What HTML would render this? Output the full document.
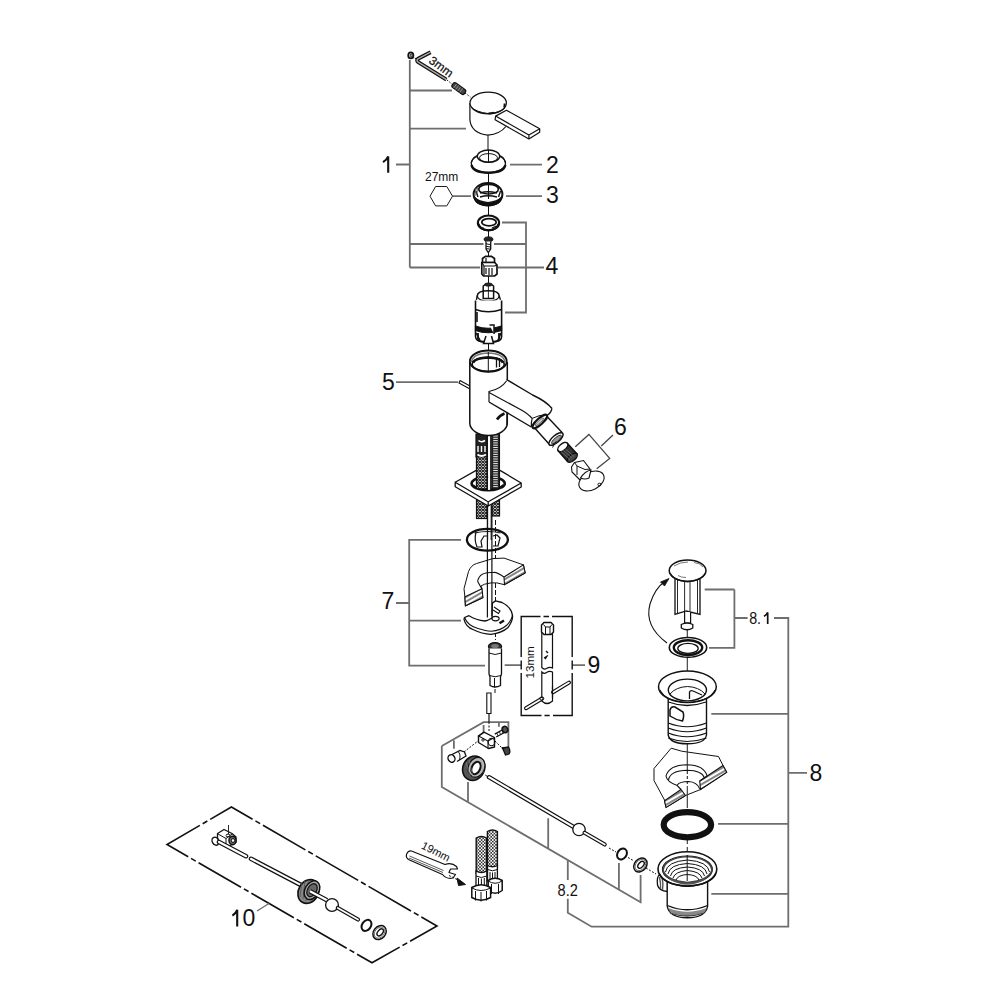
<!DOCTYPE html>
<html><head><meta charset="utf-8">
<style>
html,body{margin:0;padding:0;background:#fff;width:1000px;height:1000px;overflow:hidden}
svg{display:block;position:absolute;left:0;top:0}
text{font-family:"Liberation Sans",sans-serif;fill:#111}
</style></head><body>
<svg width="1000" height="1000" viewBox="0 0 1000 1000">
<defs>
<pattern id="braid" width="3" height="3" patternUnits="userSpaceOnUse">
<rect width="3" height="3" fill="#fff"/>
<path d="M0 0L3 3M3 0L0 3" stroke="#222" stroke-width="1.1"/>
</pattern>
<pattern id="braid2" width="3.2" height="3.2" patternUnits="userSpaceOnUse">
<rect width="3.2" height="3.2" fill="#fff"/>
<path d="M0 0L3.2 3.2M3.2 0L0 3.2" stroke="#333" stroke-width="0.8"/>
</pattern>
<pattern id="knurl" width="2" height="2" patternUnits="userSpaceOnUse">
<rect width="2" height="2" fill="#555"/>
<rect width="1" height="1" fill="#222"/>
</pattern>
</defs>
<g fill="none" stroke="#1a1a1a" stroke-width="1.2" stroke-linecap="butt">
<!-- leader lines / brackets -->
<path stroke="#6e6e6e" stroke-width="1.8" d="M409.8 60V267.5M409.8 90.5H452M409.8 128.7H466M396 164.5H409.8M409.8 244H483.5M494 244H526M409.8 267.5H480"/>
<path stroke="#6e6e6e" stroke-width="1.8" d="M502 222.5H526V312.5H505M498 267.5H544"/>
<path stroke="#6e6e6e" stroke-width="1.8" d="M510 164.7H542M506 196.2H542M452.5 196.2H471"/>
<path d="M430 196.2L435.6 186.5H446.8L452.5 196.2L446.8 205.9H435.6Z" stroke-width="1"/>
</g>
<g font-size="23">

<text x="546" y="172.8">2</text>
<text x="546" y="203.2">3</text>
<text x="545.5" y="274.2">4</text>
<text x="382" y="390">5</text>
<text x="614" y="435.3">6</text>
<text x="381.5" y="609">7</text>
<text x="587.5" y="672.5">9</text>
<text x="809.5" y="780.5">8</text>
</g>
<g fill="none" stroke="#111" stroke-linecap="butt">
<path d="M383 162.2Q386.8 160 388.2 156.4V172.8" stroke-width="2.1"/>
<path d="M232.4 915.6Q236.2 913.4 237.2 909.8V926.4" stroke-width="2.1"/>
<path d="M764 616.4Q766.8 614.6 767.7 612.4V624" stroke-width="1.7"/>
</g>
<text x="425" y="180.5" font-size="12">27mm</text>

<!-- ===== TOP ASSEMBLY ===== -->
<g fill="none" stroke="#111" stroke-width="1.2">
<!-- center lines -->
<path d="M488 135V150M488.5 173V183M488.5 206V216M488.5 231V237M488.5 252V256M488.5 276V283M488.5 342V351" stroke-width="1"/>
<path d="M412 57L417 59M447 80L452.5 84.5M465 93L470.4 97" stroke-width="1" stroke-dasharray="1.5 1.5"/>
<!-- tiny nut -->
<ellipse cx="410.8" cy="55.4" rx="2.6" ry="3" fill="#ddd" stroke-width="1.7"/>
<ellipse cx="411.2" cy="55.4" rx="0.9" ry="1.4" stroke-width="0.9"/>
<!-- hex key -->
<path d="M430.6 52.2L418 58.8Q416 60.5 418.2 62.2L446.4 79.6" stroke="#111" stroke-width="3.8" stroke-linejoin="round"/>
<path d="M430.6 52.2L418 58.8Q416 60.5 418.2 62.2L446.4 79.6" stroke="#aaa" stroke-width="1.4" stroke-linejoin="round"/>
</g>
<text font-size="12" transform="translate(428,62.2) rotate(36)" style="stroke:#111;stroke-width:0.25">3mm</text>
<g fill="none" stroke="#111" stroke-width="1.2">
<!-- set screw -->
<g transform="translate(458.8,88.6) rotate(36)">
<rect x="-7.5" y="-2.8" width="15" height="5.6" rx="2" fill="#444" stroke="#111" stroke-width="1.2"/>
<path d="M-4.5 -2.5V2.5M-2 -2.5V2.5M0.5 -2.5V2.5M3 -2.5V2.5" stroke="#aaa" stroke-width="0.7"/>
</g>
<!-- handle -->
<path d="M469.9 103V119.7Q471 133 487.9 135.2Q500 134 505.9 126.5" fill="#fff"/>
<ellipse cx="488.2" cy="103" rx="18.2" ry="10.8" fill="#fff"/>
<path d="M488.5 113.4Q491 113.3 494 112.8M504.6 103.5Q504.8 105.5 504.2 107.5" stroke-width="2"/>
<path d="M471 107Q476 112 488 113.5Q500 113 505 108" stroke-width="1"/>
<path d="M495.6 116.1L506.4 110.3L539.7 128.7L528.9 135ZM495.6 116.1L495.1 119.7L528.9 139L539.7 132.3V128.7M528.9 135V139" fill="#fff" stroke-linejoin="round"/>
<!-- ring 2 -->
<path d="M471.2 163.2Q473 156.5 477.4 155.5" />
<path d="M499.6 155.5Q504 156.5 505.6 163.2" />
<ellipse cx="488.4" cy="163.3" rx="17.1" ry="9.3" stroke-width="1.3"/>
<path d="M471.5 165Q473 172.5 488.4 172.8Q504 172.5 505.3 165" stroke-width="2.4"/>
<ellipse cx="488.5" cy="156.2" rx="11.2" ry="6.2" fill="#fff" stroke-width="1.3"/>
<ellipse cx="488.5" cy="157.8" rx="9" ry="4.2" stroke-width="1"/>
<path d="M488.5 150V162" stroke-width="1"/>
<!-- nut 3 -->
<ellipse cx="488" cy="194.2" rx="14.4" ry="11.2" fill="#fff" stroke-width="2"/>
<path d="M474.2 197Q475 205.5 488 205.6Q501 205.5 501.8 197Q497 202 488 202.5Q479 202 474.2 197Z" fill="#111" stroke-width="1.2"/>
<ellipse cx="488.6" cy="189.2" rx="9.8" ry="4.8" stroke-width="1.6"/>
<path d="M480 193Q488 190.5 497 193M480 197Q488 194.5 497 197M476 191L478 197M500.5 191L498.5 197" stroke-width="1.4"/>
<path d="M476 188L475 196M477.5 187L477 194" stroke="#666" stroke-width="1"/>
<path d="M488.5 183V199" stroke-width="1"/>
<!-- nut 4 -->
<ellipse cx="488.5" cy="222.9" rx="10.6" ry="7.4" fill="#fff" stroke-width="2.2"/>
<ellipse cx="489" cy="222.2" rx="7.2" ry="3.6" stroke-width="1.8"/>
<path d="M478.5 224Q480 230 488.5 230.3Q497 230 498.5 224" stroke-width="2"/>
<path d="M480 226L481.5 228.5M483 227L482.5 229.5M492 228L496.5 226" stroke-width="1.2"/>
<!-- small screw -->
<ellipse cx="488.5" cy="239.3" rx="4.4" ry="2.4" fill="#222" stroke-width="1"/>
<path d="M486 241.5V249L488.3 252.5L490.7 249V241.5" fill="#fff" stroke-width="1.3"/>
<path d="M486 243.8L490.7 244.6M486 246.3L490.7 247.1M486 248.6L490.7 249.2" stroke-width="1"/>
<!-- adapter -->
<path d="M482.5 258.5L485.5 256.3H491.5L494.5 258.5V262.5H482.5Z" fill="#fff" stroke-width="1.7"/>
<path d="M481.8 262.5H494.7L497 265V274L494.7 276H483.5L481.8 274Z" fill="#fff" stroke-width="1.7"/>
<path d="M486 258V262M481.8 262.5L484 266H494.7L497 265M484 266V275.5" stroke-width="1.2"/>
<path d="M486 268V274M489 268V275M492 268V275" stroke-width="1.2"/>
<!-- cartridge -->
<path d="M483.2 286Q488.4 281.5 493.6 286V298.5H483.2Z" fill="#fff" stroke-width="1.5"/>
<ellipse cx="488.4" cy="284.6" rx="4" ry="2" fill="#222" stroke="none"/>
<path d="M488.4 286V298" stroke-width="0.9"/>
<path d="M477.2 296Q477.5 290.8 488.2 290.8Q499 290.8 499.2 296" stroke-width="1.6"/>
<path d="M477.2 296Q478 301 488.2 301.2Q498.5 301 499.2 296" stroke-width="1.4"/>
<path d="M475.5 300.5V336.5Q476 341 481 341.5H496Q501.5 341 501.6 336.5V300.5" fill="#fff" stroke-width="1.6"/>
<path d="M476.4 299.8L477.2 296M500.5 299.8L499.2 296" stroke-width="1.4"/>
<path d="M475.5 309.5Q488 314 501.6 309.5" stroke-width="1.6"/>
<path d="M475.5 326Q488 330.5 501.6 326V330.5Q488 335 475.5 330.5Z" fill="#111" stroke-width="1.2"/>
<path d="M477 312V322" stroke-width="1.6"/>
<path d="M478 333V339.5Q480 342 485 342H492Q497 342 499 339.5V333" stroke-width="1.8"/>
<path d="M486 336L483.5 343.5H493.5L491.5 336M489.5 325H494V334" stroke-width="1.5" fill="#fff"/>
<path d="M476 333L480 340M501 333L498 340" stroke-width="1.5"/>
</g>

<!-- ===== BODY ===== -->
<g fill="none" stroke="#111" stroke-width="1.3">
<!-- label 5 -->
<path d="M396 382.2H458" stroke="#6e6e6e" stroke-width="1.8"/>
<path d="M460 380.5L470 386M460 380.5L459 383L469 388.5" stroke-width="1.1"/>
<!-- hoses under body -->
<rect x="476.5" y="488" width="10.5" height="30.5" fill="url(#braid)" stroke-width="1.2"/>
<rect x="492" y="488" width="7.5" height="28" fill="url(#braid)" stroke-width="1.2"/>
<path d="M487.6 488V540M491.2 488V540" stroke-width="1.1"/>
<!-- plate -->
<path d="M455.2 482.2L488.5 463.5L521.2 483V487L488.2 506L455.2 486.8Z" fill="#fff" stroke="none"/>
<path d="M455.2 482.2L476.2 470.4M500 470.4L521.2 483L488.2 501.8L455.2 482.2V486.8L488.2 506V501.8M488.2 506L521.2 487V483" stroke-width="1.3" stroke-linejoin="round"/>
<ellipse cx="488.2" cy="483.6" rx="16.6" ry="6.8" fill="#fff" stroke-width="2.6"/>
<path d="M473 485Q476 489.5 488.2 490Q500 489.5 503.5 485" stroke-width="2.2"/>
<!-- upper hoses -->
<rect x="476.5" y="455" width="10.5" height="34" fill="url(#braid)" stroke-width="1.3"/>
<rect x="491.8" y="434" width="7.6" height="55" fill="#2a2a2a" stroke-width="1.3"/>
<path d="M493.2 436.0H497.8M493.2 438.3H497.8M493.2 440.6H497.8M493.2 442.9H497.8M493.2 445.2H497.8M493.2 447.5H497.8M493.2 449.8H497.8M493.2 452.1H497.8M493.2 454.4H497.8M493.2 456.7H497.8M493.2 459.0H497.8M493.2 461.3H497.8M493.2 463.6H497.8M493.2 465.9H497.8M493.2 468.2H497.8M493.2 470.5H497.8M493.2 472.8H497.8M493.2 475.1H497.8M493.2 477.4H497.8M493.2 479.7H497.8M493.2 482.0H497.8M493.2 484.3H497.8M493.2 486.6H497.8" stroke="#fff" stroke-width="0.9"/>
<path d="M476 434V457H487V434Z" fill="#222" stroke-width="1.2"/>
<path d="M478.5 440.5Q481.5 443 485 440.5" stroke="#fff" stroke-width="1.6"/>
<path d="M478 446V452M481.5 446V452M485 446V452" stroke="#fff" stroke-width="1.4"/>
<path d="M477.5 454.5Q481.5 457.5 486 454.5" stroke="#fff" stroke-width="1.8"/>
<path d="M487.6 434V490M490.6 434V490" stroke-width="1.1"/>
<path d="M488.1 434H490.1V490H488.1Z" fill="#fff" stroke="none"/>
<path d="M474 488Q478 490.5 488.2 490.8Q498 490.5 502.5 488L488.2 501.3Z" fill="#fff" stroke="none"/>
<path d="M473.5 486.5Q477 490.5 488.2 490.8Q499 490.5 503 486.5" stroke-width="1.6"/>
<!-- body -->
<path d="M469.8 362V423A18.75 12.5 0 0 0 507.3 423V362" fill="#fff" stroke-width="1.5"/>
<ellipse cx="488.3" cy="361.2" rx="18.4" ry="10.7" fill="#fff" stroke-width="1.8"/>
<path d="M471.5 362Q473 353.5 488.3 353Q503.5 353.5 505 362" stroke="#777" stroke-width="1.6"/>
<ellipse cx="488.2" cy="364.3" rx="16" ry="7.1" stroke-width="1.6"/>
<path d="M473 362.5Q476 357.8 488.2 357.5Q500 357.8 503 362.5" stroke-width="2.6"/>
<path d="M496.5 357.5V367.5M499.5 358V367" stroke-width="1.3"/>
<path d="M488.3 352V372" stroke-width="1"/>
<path d="M497 419.5Q499.5 415.5 504.5 413.5" stroke-width="2.6"/>
<!-- spout -->
<path d="M506.5 379.5L532.6 395Q547 402 552 408.5L547 416L534 428L489 402V391Q500 388 506.5 381Z" fill="#fff" stroke="none"/>
<path d="M506.5 379.5L532.6 395Q546.5 401.5 552 408.5" stroke-width="1.4"/>
<path d="M506.5 381Q501 389 489 391.5V402" stroke-width="1.2"/>
<path d="M489 392.5L520 409.2Q528 413.5 532.2 418.4" stroke-width="1.2"/>
<path d="M489 402L531.3 427" stroke-width="1.4"/>
<path d="M552 408.5Q551 413 547 415.5M532.2 418.4Q531 422 531.3 427" stroke-width="1.2"/>
<path d="M532.2 418.4Q540 414 547 415.5" stroke-width="1"/>
<path d="M507 413V425" stroke-width="1.3"/>
<!-- aerator housing -->
<path d="M534.9 428.3L547 416.6L562.3 432.8L549.5 444.5Z" fill="#fff" stroke="none"/>
<path d="M547 416.6L562.3 432.8M534.9 428.3L549.5 444.5" stroke-width="1.4"/>
<ellipse cx="556" cy="439" rx="8.8" ry="3.6" transform="rotate(-40 556 439)" fill="#fff" stroke-width="1.5"/>
<ellipse cx="556.5" cy="439.5" rx="6.2" ry="2" transform="rotate(-40 556.5 439.5)" fill="#999" stroke-width="0.8"/>
<ellipse cx="539.8" cy="421.5" rx="9.4" ry="3" transform="rotate(-42 539.8 421.5)" fill="#fff" stroke-width="2.2"/>
<ellipse cx="539.5" cy="421.8" rx="5.5" ry="1.2" transform="rotate(-42 539.5 421.8)" fill="#ccc" stroke="#555" stroke-width="0.8"/>
<!-- knurled aerator -->
<g transform="translate(-3,3.5)">
<path d="M561 447L570.5 440L580 450.5L570.5 458Z" fill="#333" stroke="#111" stroke-width="1.5"/>
<ellipse cx="575.3" cy="454.2" rx="6" ry="3" transform="rotate(-40 575.3 454.2)" fill="#444" stroke-width="1.4"/>
<ellipse cx="565.8" cy="443.5" rx="6" ry="3.2" transform="rotate(-40 565.8 443.5)" fill="#fff" stroke-width="1.5"/>
<path d="M564 448L573 456M566 446.5L575 454.5M568 445L577 453" stroke="#888" stroke-width="0.6"/>
<path d="M559 438L555.5 444M578.5 459.5L582 463" stroke-width="1"/>
</g>
<!-- nozzle tip -->
<path d="M571.5 467L574.5 462.5L583.5 460.5L590 469L591 476L580 480L572 472Z" fill="#fff" stroke-width="1.1"/>
<path d="M574.5 462.5L577 466L585 469.5L590 469M577 466V475" stroke-width="1"/>
<ellipse cx="591.5" cy="481" rx="13.5" ry="8.7" transform="rotate(-28 591.5 481)" fill="#fff" stroke-width="1.1"/>
<path d="M580.5 478Q585 471 591 470L589 478Q585 480 580.5 478Z" fill="#fff" stroke-width="1.1"/>
<ellipse cx="599.5" cy="484.5" rx="1.6" ry="1.3" stroke-width="1"/>
<!-- bracket 6 -->
<path d="M575.3 446.7L588.9 434.4L609.7 458.4L596.7 468.8M601.3 446L613 435" stroke="#444" stroke-width="1.3"/>
</g>

<!-- ===== PART 7 / 9 ===== -->
<defs>
<pattern id="hatch" width="4" height="4" patternUnits="userSpaceOnUse" patternTransform="rotate(-30)">
<rect width="4" height="4" fill="#fff"/>
<path d="M0 2H4" stroke="#222" stroke-width="1.1"/>
</pattern>
</defs>
<g fill="none" stroke="#111" stroke-width="1.2">
<!-- bracket 7 -->
<path d="M461 539.8H409.2V665.6H485M396 603H409.2M409.2 620.7H461M504.7 665.2H521.2M572.2 665.2H585" stroke="#6e6e6e" stroke-width="1.8"/>
<!-- dashed center line -->
<path d="M495.5 520V640M495 689V693" stroke-width="1" stroke-dasharray="5 2"/>
<!-- O-ring -->
<ellipse cx="487.4" cy="539.8" rx="20.5" ry="10.9" stroke-width="2.3"/>
<path d="M476 532Q474 540 477 547H482L481 541L484 536H488M493 536L497 535L500 538L498 546H493" stroke-width="1.2"/>
<path d="M474.5 533Q488 530 500.5 533" stroke-width="1.1"/>
<!-- countertop section -->
<path d="M468.5 571.6Q471 565 476.6 563.5L492.8 558.6L504 558.1L523.4 564.9L525.2 573L504.5 584.7Q496 582 491 582.9Q483 584 481 586L482.9 597.7L465.4 605.8L464.9 596.8L464 588.7Z" fill="#fff" stroke-width="1"/>
<path d="M523.4 564.9L504 577L504.5 584.7L525.2 573Z" fill="url(#hatch)" stroke-width="1.1"/>
<path d="M504 577Q496 571.5 493.7 572.5Q482 572 479.3 577Q477 581 478 582Q480 586 482 588.7" stroke-width="1.1"/>
<path d="M482 588.7L464.9 596.8L465.4 605.8L482.9 597.7Z" fill="url(#hatch)" stroke-width="1.1"/>
<!-- horseshoe -->
<path d="M464 619.3Q466 627 473 629.5Q482 634 491 634.3Q502 633 508 627.5Q513.5 620 512.4 614.8Q511 607 502 602.5L495.5 600.9L492.4 603.1L492 618Q488 620.5 485 621Q476 620 469 615.7L464.5 617.5Z" fill="#fff" stroke-width="1.3" stroke-linejoin="round"/>
<path d="M464.5 617.5Q468 626 478 628.5Q486 631 491 631.3Q501 630.5 507 625Q512.4 619 512.4 614.8" stroke-width="1.1"/>
<ellipse cx="495.5" cy="618.6" rx="3.6" ry="2.2" stroke-width="1.2"/>
<path d="M499.5 623.3L504 620.5" stroke-width="2.4"/>
<path d="M494 607L500 611L498.5 613.5L493 610" stroke-width="1.1"/>
<!-- rod -->
<path d="M487.4 506V617.5M491.9 506V616" stroke-width="1.2"/>
<path d="M487.4 540V550M491.9 540V550" stroke="#fff" stroke-width="0"/>
<!-- threaded pin -->
<ellipse cx="495" cy="646.5" rx="6.6" ry="3.8" fill="#333" stroke-width="1.2"/>
<ellipse cx="495" cy="646" rx="3.8" ry="2" fill="#777" stroke="none"/>
<path d="M489 648.5V674L490 677V685.5Q495 688.5 500.5 685.5V677L501.5 674V648.5" fill="#fff" stroke-width="1.3"/>
<path d="M489 653Q495 656 501.5 653M489.5 675.5Q495 678 501 675.5M494.5 678V687.5" stroke-width="1"/>
<path d="M486.8 693V713.5H491V693Z" fill="#fff" stroke-width="1.1"/>
<!-- box 9 -->
<path d="M521.2 657V616.5H540.5M543.5 616.5H549M552 616.5H572.2V657M521.2 660.5V669.5M572.2 660.5V669.5M521.2 673V715.5H541.5M544.5 715.5H549.7M553 715.5H572.2V673" stroke-width="1.4"/>
<!-- T wrench -->
<path d="M541.8 630V667.5Q544 670 546.5 668.5Q549.5 666.5 552.5 668V630" fill="#fff" stroke-width="1.2"/>
<path d="M541.8 672Q544 674.5 546.5 672.5Q549.5 670.5 552.5 672V701Q547 706 541.8 701Z" fill="#fff" stroke-width="1.2"/>
<path d="M541.5 625L544 622.5H551L553.5 625V632L551 634.5H544L541.5 632Z" fill="#fff" stroke-width="1.4"/>
<path d="M543.5 624.5L545.5 627H550L552 624.5M545.5 627V634M550 627V634" stroke-width="1"/>
<path d="M546 651L548 653M546.5 657L545 659M548 655.5L544 658" stroke-width="1.4"/>
<path d="M526 708.2L541.8 698.8M553 692.2L569 682.6" stroke="#111" stroke-width="4" stroke-linecap="round"/>
<path d="M526 708.2L541.8 698.8M553 692.2L569 682.6" stroke="#fff" stroke-width="1.7" stroke-linecap="round"/>
<path d="M552.5 686V698" stroke-width="1.2"/>
<ellipse cx="541.8" cy="698.5" rx="2" ry="1.6" stroke-width="1"/>
</g>
<text font-size="11.6" transform="translate(534.2,678.5) rotate(-90)">13mm</text>

<!-- ===== PART 8.2 ===== -->
<g fill="none" stroke="#111" stroke-width="1.2">
<!-- frame -->
<path d="M441.8 746L483.6 722.2H508.4V747.4M441.8 746V787L640.6 902.2V874.9M453.9 740.6V748.8M483.6 725V732.6M498.9 722.6V726.7M468 782V802M548.2 818.2V848.6M618.9 863V889.5" stroke="#6e6e6e" stroke-width="1.8"/>
<path d="M567.8 860.2V880M567.8 898.7V912.7L591.6 926.7H788.3V618H774M788.3 893.8H711.3M788.3 823.8H718M788.3 713.8H711.3M788.3 772.8H807M734.4 589.5H704.7M734.4 589.5V647.8H709M734.4 618H747.6" stroke="#6e6e6e" stroke-width="1.8"/>
<path d="M489 714V722" stroke-width="1.2"/>
<path d="M489 722V732M464 752L478 741M495 741L503 749M490 778L485 775" stroke-width="1" stroke-dasharray="2 1.5"/>
<!-- adapter block -->
<path d="M478.5 736L484 732.2L494.5 737.5V747L488.5 748.5L478.5 742.5Z" fill="#fff" stroke-width="1.4" stroke-linejoin="round"/>
<path d="M484 732.2L478.5 736L488 741V748.5M488 741L494.5 737.5" stroke-width="1.1"/>
<ellipse cx="491.5" cy="742" rx="3.3" ry="3.8" stroke-width="1.1"/>
<circle cx="483" cy="740" r="1.2" stroke-width="0.9"/>
<!-- screw -->
<path d="M494.8 734.2L503 729.5M496.2 737L504.5 732.5" stroke-width="1.4"/>
<path d="M497 733.5L498 735.8M499.5 732L500.5 734.3M502 730.6L503 733" stroke-width="0.9"/>
<ellipse cx="505" cy="729.5" rx="2.6" ry="3.2" transform="rotate(-30 505 729.5)" fill="#555" stroke-width="1.5"/>
<!-- small screw -->
<path d="M502.5 748L508.5 747Q511 751 509 754L505.5 755Z" fill="#444" stroke-width="1.3"/>
<path d="M504 749L502 747.5" stroke-width="1.6"/>
<!-- elbow -->
<path d="M451 755L460 750.5L464.5 752L466 756L457 761.5" fill="#fff" stroke-width="1.3"/>
<ellipse cx="451.5" cy="758.5" rx="3.4" ry="3.8" transform="rotate(-30 451.5 758.5)" fill="#fff" stroke-width="1.4"/>
<path d="M458 751.5Q461 754 459.5 760" stroke-width="1"/>
<!-- knurled nut -->
<ellipse cx="473.7" cy="768.2" rx="10.8" ry="12.5" transform="rotate(25 473.7 768.2)" fill="#555" stroke-width="1.6"/>
<ellipse cx="476.5" cy="767.3" rx="8" ry="10.2" transform="rotate(25 476.5 767.3)" fill="#bbb" stroke-width="1.2"/>
<ellipse cx="476" cy="768" rx="4.2" ry="6.5" transform="rotate(25 476 768)" fill="#fff" stroke="#111" stroke-width="2"/>
<path d="M466 762L470 776M469 760L473 777M481 759L483 773" stroke="#999" stroke-width="0.5"/>
<!-- rod -->
<path d="M489 777.2L573.5 826.8" stroke="#111" stroke-width="4.4" stroke-linecap="round"/>
<path d="M489 777.2L573.5 826.8" stroke="#fff" stroke-width="2" stroke-linecap="round"/>
<circle cx="579" cy="829.5" r="6.2" fill="#fff" stroke-width="1.3"/>
<path d="M584.5 832.8L604.8 844.6" stroke="#111" stroke-width="4" stroke-linecap="round"/>
<path d="M584.5 832.8L604.8 844.6" stroke="#fff" stroke-width="1.7" stroke-linecap="round"/>
<!-- small o-ring -->
<ellipse cx="622" cy="854" rx="4.5" ry="5.8" transform="rotate(35 622 854)" stroke-width="2"/>
<path d="M609 848L616 852M628 857.5L634 861M646 868L656 874" stroke-width="1" stroke-dasharray="2 1.5"/>
<!-- washer -->
<ellipse cx="640.4" cy="865" rx="6" ry="7.6" transform="rotate(40 640.4 865)" fill="#fff" stroke-width="1.5"/>
<ellipse cx="640.4" cy="865" rx="4.6" ry="6.2" transform="rotate(40 640.4 865)" stroke="#666" stroke-width="0.9"/>
<ellipse cx="641" cy="864.8" rx="2.4" ry="4" transform="rotate(40 641 864.8)" fill="#fff" stroke-width="1.4"/>
</g>
<text font-size="16.6" transform="translate(557.6,896.2) scale(0.88,1)">8.2</text>
<text font-size="16.2" transform="translate(749.2,624) scale(0.88,1)">8.</text>

<!-- ===== DRAIN 8 / 8.1 ===== -->
<g fill="none" stroke="#111" stroke-width="1.2">
<path d="M687.3 630V637M687.3 657V672M687.3 743V750" stroke-width="1.1" stroke="#333"/>
<path d="M687.3 840V853" stroke-width="1.1" stroke="#333" stroke-dasharray="4 3"/>
<!-- curved arrow -->
<path d="M667 643Q644 626 650 604Q655 588 665 581.5" stroke-width="1.1"/>
<path d="M669 578.5L660.5 582L664.5 586Z" fill="#111" stroke-width="0.8"/>
<!-- pop-up cap -->
<path d="M675 577V614.4L686.2 611L700 614.4V577" fill="#fff" stroke-width="1.3"/>
<path d="M677.5 579V613.5M684.6 580V611M690 580V611M697.5 579V613.5" stroke-width="0.9"/>
<ellipse cx="687.6" cy="570.6" rx="18.4" ry="10.6" fill="#fff" stroke-width="1.5"/>
<path d="M670 573Q673 580.5 687.6 581.8Q702 580.5 705.5 573" stroke-width="1.2"/>
<path d="M674 566Q680 562 688 562M694 562.5Q700 563 703 567M678 575.5Q681 577.5 686 577.5" stroke="#777" stroke-width="1"/>
<path d="M684.6 612V623H690.6V612" fill="#fff" stroke-width="1.2"/>
<path d="M681.3 624.5Q687 621.5 692.8 624.5V628Q687 631.5 681.3 628Z" fill="#fff" stroke-width="1.3"/>
<!-- flange ring 8.1 -->
<ellipse cx="688" cy="647.4" rx="18.7" ry="9.9" fill="#fff" stroke-width="1.6"/>
<ellipse cx="688" cy="647.6" rx="14.2" ry="7.4" stroke-width="2.4"/>
<ellipse cx="688" cy="648.4" rx="10.2" ry="5" stroke-width="1.3"/>
<!-- upper drain body -->
<path d="M668.2 694V735Q670 743.8 687.4 743.8Q705 743.8 706.5 735V694" fill="#fff" stroke-width="1.4"/>
<path d="M668.2 723Q687 730.5 706.5 723M668.2 728Q687 735.5 706.5 728M668.2 733Q687 740.5 706.5 733M668.2 738Q687 745 706.5 738" stroke-width="1.1"/>
<path d="M670 710Q671 706 675 707L683 712Q684.5 716 682.5 721Q676 720 670 716Z" stroke-width="1.5"/>
<ellipse cx="687.4" cy="686.7" rx="28.9" ry="15.7" fill="#fff" stroke-width="1.5"/>
<path d="M660 690Q665 701 687.4 702.5Q710 701 715 690" stroke-width="1.1"/>
<ellipse cx="687.4" cy="690" rx="19.1" ry="10.9" fill="#fff" stroke-width="1.4"/>
<path d="M670 694Q676 687 687.4 686.5Q699 687 705 694" stroke-width="1"/>
<path d="M689.5 699V692Q690.5 690 693 691L702 695" stroke-width="1.3"/>
<path d="M668.5 702Q687 709 706 702" stroke-width="1.3"/>
<!-- countertop piece 8 -->
<path d="M654 768.5L671.2 748.2L681.7 751.2L718.5 756.5L723 765.5L726.7 772.2L700.5 789.5L685.5 795.5L666 807.5L664.5 800L654 780.5Z" fill="#fff" stroke-width="1"/>
<path d="M723 765.5L699.7 781L700.5 789.5L726.7 772.2Z" fill="url(#hatch)" stroke-width="1.1"/>
<path d="M681 789.5L664.5 800.7L666 807.5L685.5 795.5Z" fill="url(#hatch)" stroke-width="1.1"/>
<path d="M666 776Q669 765 687 764.7Q704 765 707.2 776" stroke-width="1.1"/>
<path d="M666 776Q667 782 677.2 785.5L681 789.5M707.2 776L699.7 781" stroke-width="1.1"/>
<path d="M677.2 785Q680 781.5 688.5 781.5Q697 782 699.7 788.7" stroke-width="1.1"/>
<path d="M668.5 780Q670 770.5 687.3 770.2Q702 770.5 704.4 777.8" stroke-width="1.1"/>
<path d="M687.3 750V770M687.3 786V808" stroke-width="1.1" stroke="#333"/>
<path d="M687.3 771V786" stroke-width="1" stroke-dasharray="3 2"/>
<!-- big o-ring -->
<ellipse cx="687.4" cy="824.7" rx="23.7" ry="12.6" stroke-width="6.2"/>
<!-- lower drain body -->
<path d="M667.5 875L660 874.5Q656.5 876 657.5 885Q659 891 667.5 891.5Z" fill="#fff" stroke-width="1.3"/>
<path d="M659.5 877Q661 884 660.5 889M662 876.5Q663.5 884 662.5 890" stroke="#555" stroke-width="1.4"/>
<path d="M667.2 872V906Q669 917.5 687.4 917.8Q706 917.5 707.6 906V872" fill="#fff" stroke-width="1.4"/>
<path d="M667.5 905.5Q687 914 707.5 905.5M669 910Q687 917 706 910" stroke-width="1.3"/>
<path d="M668.5 908Q687 915.5 706.5 908L705 912Q687 919.5 670 912Z" fill="#888" stroke="none"/>
<path d="M670 913Q687 919 704 913" stroke="#444" stroke-width="1.3"/>
<ellipse cx="687.4" cy="869" rx="29.4" ry="17.2" fill="#fff" stroke-width="1.6"/>
<path d="M659.5 874Q664 884.5 687.4 886.2Q711 884.5 715.5 874" stroke-width="1.8"/>
<ellipse cx="687.4" cy="869.5" rx="25" ry="13.5" fill="#fff" stroke-width="1.1"/>
<path d="M663 870Q665 858 687.4 856.5Q710 858 712 870Q709 880.5 687.4 882.5Q666 880.5 663 870Z" stroke="#444" stroke-width="1.6"/>
<path d="M665.5 872Q667 861.5 687.4 860Q708 861.5 709.5 872" stroke-width="1"/>
<path d="M668 874Q669.5 864.5 687.4 863.5Q705.5 864.5 707 874" stroke-width="1"/>
<path d="M670.5 876Q672 868 687.4 867Q703 868 704.5 876" stroke-width="1"/>
<path d="M673 878Q675 871.5 687.4 870.5Q700 871.5 702 878" stroke-width="1"/>
<path d="M676 880Q678 875 687.4 874.5Q697 875 699 880" stroke-width="1"/>
<path d="M670 879Q680 884 687.4 884Q695 884 705 879" stroke="#555" stroke-width="1.4"/>
<path d="M687.2 855V881" stroke-width="1"/>
</g>

<!-- ===== HOSES / WRENCH / BOX 10 ===== -->
<g fill="none" stroke="#111" stroke-width="1.2">
<!-- hoses -->
<path d="M487.4 867.5V831.5Q492.4 828.5 497.4 831.5V867.5Z" fill="url(#braid2)" stroke-width="1.4"/>
<path d="M487.5 865.5Q492.5 868 497.4 865.5V881H487.5Z" fill="#fff" stroke-width="1.3"/>
<path d="M487.5 869.5Q492.5 872 497.4 869.5M490 872V880M492.5 872.5V881M495 872V880" stroke-width="1"/>
<path d="M488.2 880.5Q495 876 502.2 880.5V890.5Q495 896 488.2 890.5Z" fill="#fff" stroke-width="1.5"/>
<path d="M488.2 881Q495 885.5 502.2 881M491.5 884V894M498.5 884V894" stroke-width="1"/>
<path d="M476.2 873V838Q481.4 835 486.6 838V873Z" fill="url(#braid2)" stroke-width="1.4"/>
<path d="M476 871Q481.4 874 486.8 871V887H476Z" fill="#fff" stroke-width="1.3"/>
<path d="M476 876Q481.4 879 486.8 876M478.5 878V886M481.4 878.5V887M484.3 878V886" stroke-width="1"/>
<path d="M471.8 887.5Q481 882 490.6 887.5V897.5Q481 903 471.8 897.5Z" fill="#fff" stroke-width="1.5"/>
<path d="M471.8 888Q481 893 490.6 888M475.5 891V900.5M481 892V901.5M486.5 891V900.5" stroke-width="1"/>
<!-- wrench -->
<path d="M411.5 851L445 864.5Q451.5 862 456.5 866.5L457.5 869L450.5 869L449 872.5L455.5 874.5L453 878Q446.5 879.5 442.5 874.5L409.5 860Q405.5 858 406.5 854.5Q408 850.5 411.5 851Z" fill="#fff" stroke-width="1.2" stroke-linejoin="round"/>
<path d="M409.5 856L443.5 870.5M409 858L443 872.5" stroke="#444" stroke-width="0.9"/>
<path d="M449 875.5L458 880" stroke-width="1" stroke-dasharray="2 1.5"/>
<path d="M457 878L465.5 884.5L458.5 885.5Z" fill="#111" stroke-width="1"/>
<!-- box 10 -->
<path d="M167 844.5L231.4 807L437 926L372 962.8Z" stroke-width="1.6" stroke-dasharray="49 3.3 5.4 3.3" stroke-dashoffset="11"/>
<path d="M257 911L269 903.5" stroke="#6e6e6e" stroke-width="1.4"/>
<!-- elbow -->
<path d="M217.5 838V833.5L224 829.5L232 833.5L236 837V842.5L229 846L220 843Z" fill="#fff" stroke-width="1.3" stroke-linejoin="round"/>
<path d="M218 834L226 838.5L232 834M226 838.5V844" stroke-width="1"/>
<ellipse cx="215.5" cy="841.2" rx="3.2" ry="4.2" transform="rotate(-30 215.5 841.2)" fill="#fff" stroke-width="1.4"/>
<ellipse cx="232.5" cy="840.5" rx="3.6" ry="4.2" fill="#666" stroke-width="1.4"/>
<ellipse cx="233" cy="840.5" rx="1.6" ry="2" fill="#fff" stroke-width="1"/>
<ellipse cx="228" cy="835.5" rx="2" ry="1.4" stroke-width="1"/>
<path d="M228.5 825V834" stroke-width="0.9"/>
<!-- rod -->
<path d="M219 842L246 856.2M251 858.8L304 886.6" stroke="#111" stroke-width="4.6" stroke-linecap="round"/>
<path d="M219 842L246 856.2M251 858.8L304 886.6" stroke="#fff" stroke-width="2.2" stroke-linecap="round"/>
<ellipse cx="308.5" cy="891.5" rx="10" ry="12.4" transform="rotate(30 308.5 891.5)" fill="#888" stroke-width="1.6"/>
<path d="M302 882L300 897M305 880.5L303 899M308.5 880L306 901" stroke="#555" stroke-width="0.9"/>
<ellipse cx="312" cy="890.2" rx="7" ry="10" transform="rotate(30 312 890.2)" fill="#aaa" stroke-width="1.5"/>
<ellipse cx="312" cy="890.2" rx="4.5" ry="7" transform="rotate(30 312 890.2)" fill="#666" stroke-width="1.2"/>
<path d="M310 891.3L327 900.3" stroke="#111" stroke-width="4.6" stroke-linecap="butt"/>
<path d="M310 891.3L327 900.3" stroke="#fff" stroke-width="2.2"/>
<circle cx="332" cy="905" r="6.4" fill="#fff" stroke-width="1.3"/>
<path d="M337.8 908L358 919.5" stroke="#111" stroke-width="4.2" stroke-linecap="round"/>
<path d="M337.8 908L358 919.5" stroke="#fff" stroke-width="1.8" stroke-linecap="round"/>
<ellipse cx="366.5" cy="925.4" rx="4.4" ry="6" transform="rotate(35 366.5 925.4)" stroke-width="2"/>
<ellipse cx="379.6" cy="932.6" rx="6" ry="7.6" transform="rotate(40 379.6 932.6)" fill="#fff" stroke-width="1.5"/>
<ellipse cx="379.6" cy="932.6" rx="4.6" ry="6.2" transform="rotate(40 379.6 932.6)" stroke="#666" stroke-width="0.9"/>
<ellipse cx="380.2" cy="932.4" rx="2.4" ry="4" transform="rotate(40 380.2 932.4)" fill="#fff" stroke-width="1.4"/>
</g>
<text font-size="11" transform="translate(420.5,848) rotate(27)">19mm</text>
<text x="242.6" y="926.4" font-size="23">0</text>
</svg>
</body></html>
